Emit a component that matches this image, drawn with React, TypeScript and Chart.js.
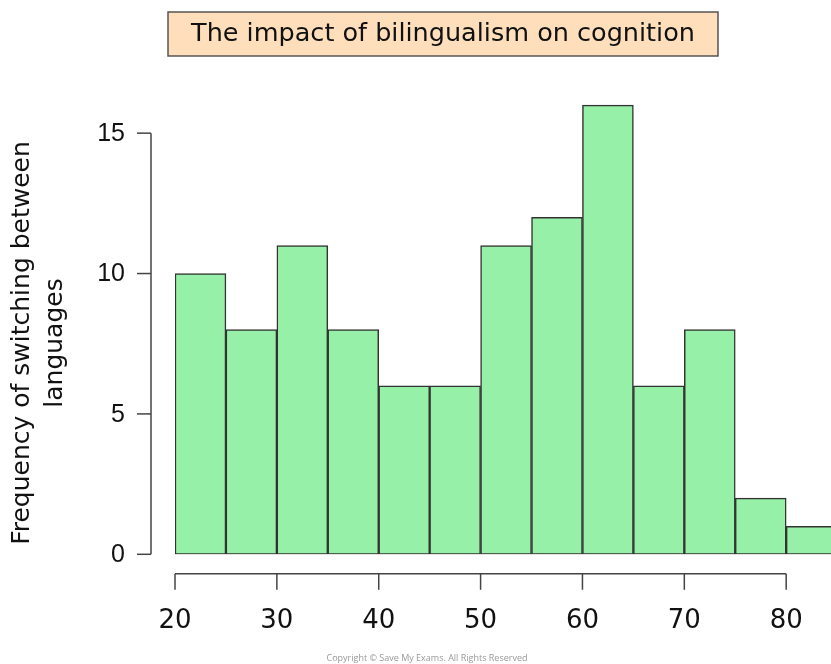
import React, { useEffect, useRef } from "react";
import { Chart, registerables } from "chart.js";

Chart.register(...registerables);

const chartTitle = "The impact of bilingualism on cognition";
const yTitleLines = ["Frequency of switching between", "languages"];
const binCenters = [22.5, 27.5, 32.5, 37.5, 42.5, 47.5, 52.5, 57.5, 62.5, 67.5, 72.5, 77.5, 82.5];
const frequencies = [10, 8, 11, 8, 6, 6, 11, 12, 16, 6, 8, 2, 1];
const xTicks = [20, 30, 40, 50, 60, 70, 80];
const yTicks = [0, 5, 10, 15];
const copyright = "Copyright © Save My Exams. All Rights Reserved";

const rAxesPlugin = {
  id: "rAxes",
  afterDraw(chart: any) {
    const { ctx, chartArea, scales } = chart;
    const x = scales.x;
    const y = scales.y;
    ctx.save();
    ctx.strokeStyle = "#444";
    ctx.lineWidth = 1.5;
    ctx.fillStyle = "#111";

    // y axis (detached)
    const ax = chartArea.left - 24;
    const yTop = y.getPixelForValue(yTicks[yTicks.length - 1]);
    const yBot = y.getPixelForValue(yTicks[0]);
    ctx.beginPath();
    ctx.moveTo(ax, yBot);
    ctx.lineTo(ax, yTop);
    ctx.stroke();
    ctx.font = '25px "Liberation Sans", Arial, sans-serif';
    ctx.textAlign = "right";
    ctx.textBaseline = "middle";
    yTicks.forEach((v) => {
      const py = y.getPixelForValue(v);
      ctx.beginPath();
      ctx.moveTo(ax, py);
      ctx.lineTo(ax - 14, py);
      ctx.stroke();
      ctx.fillText(String(v), ax - 26, py + 1);
    });

    // x axis (detached)
    const ay = chartArea.bottom + 19.5;
    const xL = x.getPixelForValue(xTicks[0]);
    const xR = x.getPixelForValue(xTicks[xTicks.length - 1]);
    ctx.beginPath();
    ctx.moveTo(xL, ay);
    ctx.lineTo(xR, ay);
    ctx.stroke();
    ctx.font = '26px "DejaVu Sans", sans-serif';
    ctx.textAlign = "center";
    ctx.textBaseline = "middle";
    xTicks.forEach((v) => {
      const px = x.getPixelForValue(v);
      ctx.beginPath();
      ctx.moveTo(px, ay);
      ctx.lineTo(px, ay + 16);
      ctx.stroke();
      ctx.fillText(String(v), px, ay + 47);
    });

    // y title (rotated, two lines)
    ctx.save();
    ctx.translate(22, 343);
    ctx.rotate(-Math.PI / 2);
    ctx.font = '25px "DejaVu Sans", sans-serif';
    ctx.fillStyle = "#111";
    ctx.textAlign = "center";
    ctx.textBaseline = "middle";
    ctx.fillText(yTitleLines[0], 0, 0);
    ctx.fillText(yTitleLines[1], 0, 33);
    ctx.restore();

    // title box
    ctx.fillStyle = "#FFDFBB";
    ctx.fillRect(168, 12, 550, 44);
    ctx.strokeStyle = "#555";
    ctx.lineWidth = 1.5;
    ctx.strokeRect(168, 12, 550, 44);
    ctx.fillStyle = "#111";
    ctx.font = '25.5px "DejaVu Sans", sans-serif';
    ctx.textAlign = "center";
    ctx.textBaseline = "middle";
    ctx.fillText(chartTitle, 443, 34);

    // copyright
    ctx.fillStyle = "#999";
    ctx.font = '9px "Open Sans", sans-serif';
    ctx.fillText(copyright, 427, 658);
    ctx.restore();
  },
};

export default function App() {
  const ref = useRef<HTMLCanvasElement | null>(null);
  useEffect(() => {
    if (!ref.current) return;
    const chart = new Chart(ref.current, {
      type: "bar",
      data: {
        datasets: [
          {
            data: binCenters.map((c, i) => ({ x: c, y: frequencies[i] })),
            backgroundColor: "#97F0A7",
            borderColor: "#333",
            borderWidth: 1.5,
            barPercentage: 1,
            categoryPercentage: 1,
            borderSkipped: false,
          },
        ],
      },
      options: {
        animation: false,
        responsive: true,
        maintainAspectRatio: false,
        layout: { padding: { left: 175, right: 0, top: 77, bottom: 109.7 } },
        plugins: { legend: { display: false }, tooltip: { enabled: false }, title: { display: false } },
        scales: {
          x: {
            type: "linear",
            min: 20,
            max: 84.4,
            offset: false,
            display: false,
            afterBuildTicks: (s: any) => {
              s.ticks = xTicks.map((v) => ({ value: v }));
            },
          },
          y: {
            type: "linear",
            min: 0,
            max: 17,
            display: false,
            afterBuildTicks: (s: any) => {
              s.ticks = yTicks.map((v) => ({ value: v }));
            },
          },
        },
      },
      plugins: [rAxesPlugin],
    });
    return () => chart.destroy();
  }, []);
  return (
    <div style={{ position: "absolute", left: 0, top: 0, width: 831, height: 664, background: "#fff" }}>
      <canvas ref={ref} />
    </div>
  );
}
